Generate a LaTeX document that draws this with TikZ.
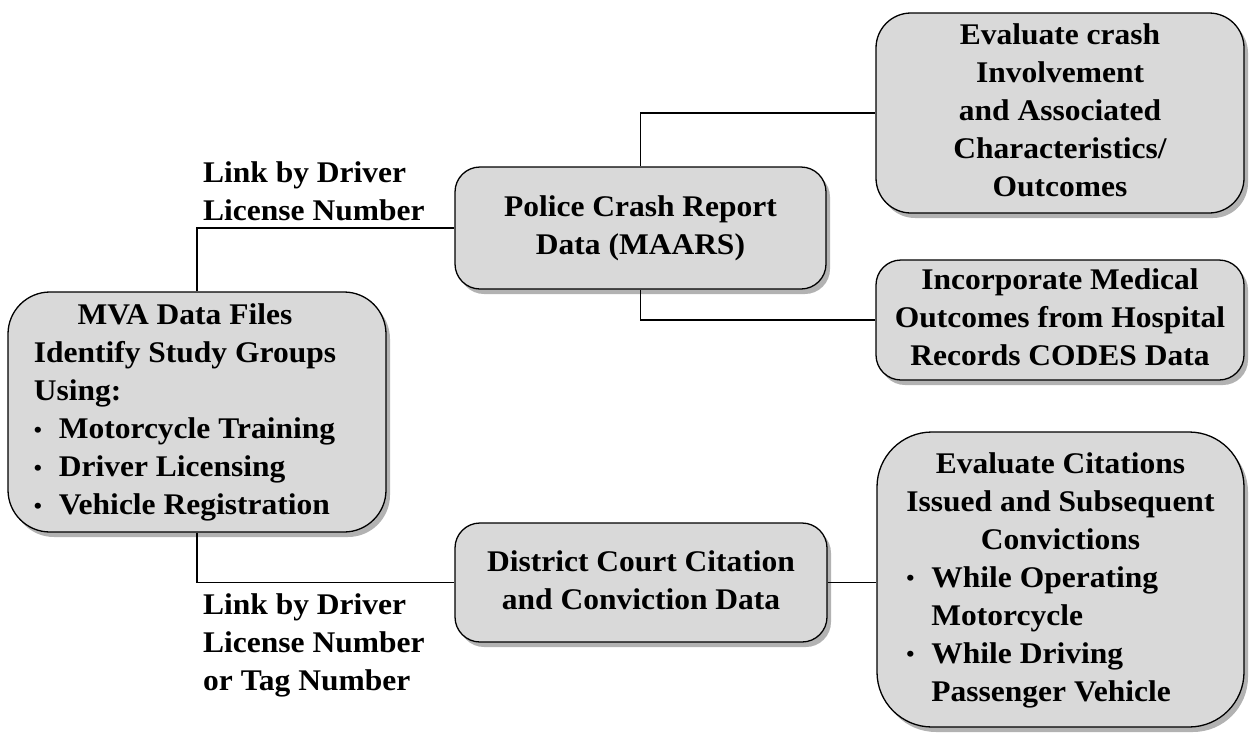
\documentclass[tikz,border=0pt]{standalone}
\usepackage{fontspec}
\setmainfont{Liberation Serif}[FakeStretch=1.05]
\usetikzlibrary{shadows}
\definecolor{boxfill}{HTML}{D9D9D9}
\newcommand{\boxfont}{\fontsize{30}{38}\selectfont\bfseries}
\newcommand{\mcline}[1]{\multicolumn{1}{@{}c@{}}{#1}}
\newcommand{\bulmark}{\makebox[25pt][l]{\raisebox{1.5pt}{\fontsize{22}{22}\selectfont\textbullet}}}
\tikzset{
  box/.style={draw=black, line width=1.3pt, fill=boxfill, inner sep=0pt,
    drop shadow={shadow xshift=4pt, shadow yshift=-5pt, opacity=0.3, fill=black}},
  link/.style={draw=black, line width=1.2pt},
  lbl/.style={anchor=base west, inner sep=0pt},
}
\begin{document}
\begin{tikzpicture}[x=1pt, y=-1pt, font=\boxfont]
\useasboundingbox (0,0) rectangle (1250,734);

\node[box, rounded corners=42pt, minimum width=378pt, minimum height=240pt] (mva) at (197,412)
  {\begin{tabular}{@{}l@{}}\mcline{MVA Data Files}\\ Identify Study Groups\\ Using:\\ \bulmark Motorcycle Training\\ \bulmark Driver Licensing\\ \bulmark Vehicle Registration\end{tabular}\hspace*{24pt}};

\node[box, rounded corners=25pt, minimum width=371pt, minimum height=122pt] (police) at (640.5,228)
  {\begin{tabular}{@{}c@{}}Police Crash Report\\ Data (MAARS)\end{tabular}};

\node[box, rounded corners=35pt, minimum width=368pt, minimum height=200pt] (evalcrash) at (1060,113)
  {\begin{tabular}{@{}c@{}}Evaluate crash\\ Involvement\\ and Associated\\ Characteristics/\\ Outcomes\end{tabular}};

\node[box, rounded corners=25pt, minimum width=368pt, minimum height=120pt] (incorp) at (1060,320)
  {\begin{tabular}{@{}c@{}}Incorporate Medical\\ Outcomes from Hospital\\ Records CODES Data\end{tabular}};

\node[box, rounded corners=25pt, minimum width=372pt, minimum height=119pt] (district) at (641,582.5)
  {\begin{tabular}{@{}c@{}}District Court Citation\\ and Conviction Data\end{tabular}};

\node[box, rounded corners=55pt, minimum width=367pt, minimum height=295pt] (evalcit) at (1060.5,579.5)
  {\begin{tabular}{@{}l@{}}\mcline{Evaluate Citations}\\ \mcline{Issued and Subsequent}\\ \mcline{Convictions}\\ \bulmark While Operating\\ \hspace*{25pt}Motorcycle\\ \bulmark While Driving\\ \hspace*{25pt}Passenger Vehicle\end{tabular}};

\node[lbl] (lbltop) at (203,182)
  {\begin{tabular}[t]{@{}l@{}}Link by Driver\\ License Number\end{tabular}};
\node[lbl] (lblbot) at (203,614)
  {\begin{tabular}[t]{@{}l@{}}Link by Driver\\ License Number\\ or Tag Number\end{tabular}};

\draw[link] (mva.north) |- (police.west);
\draw[link] (police.north) |- (evalcrash.west);
\draw[link] (police.south) |- (incorp.west);
\draw[link] (mva.south) |- (district.west);
\draw[link] (district.east) -- (district.east -| evalcit.west);
\end{tikzpicture}
\end{document}
